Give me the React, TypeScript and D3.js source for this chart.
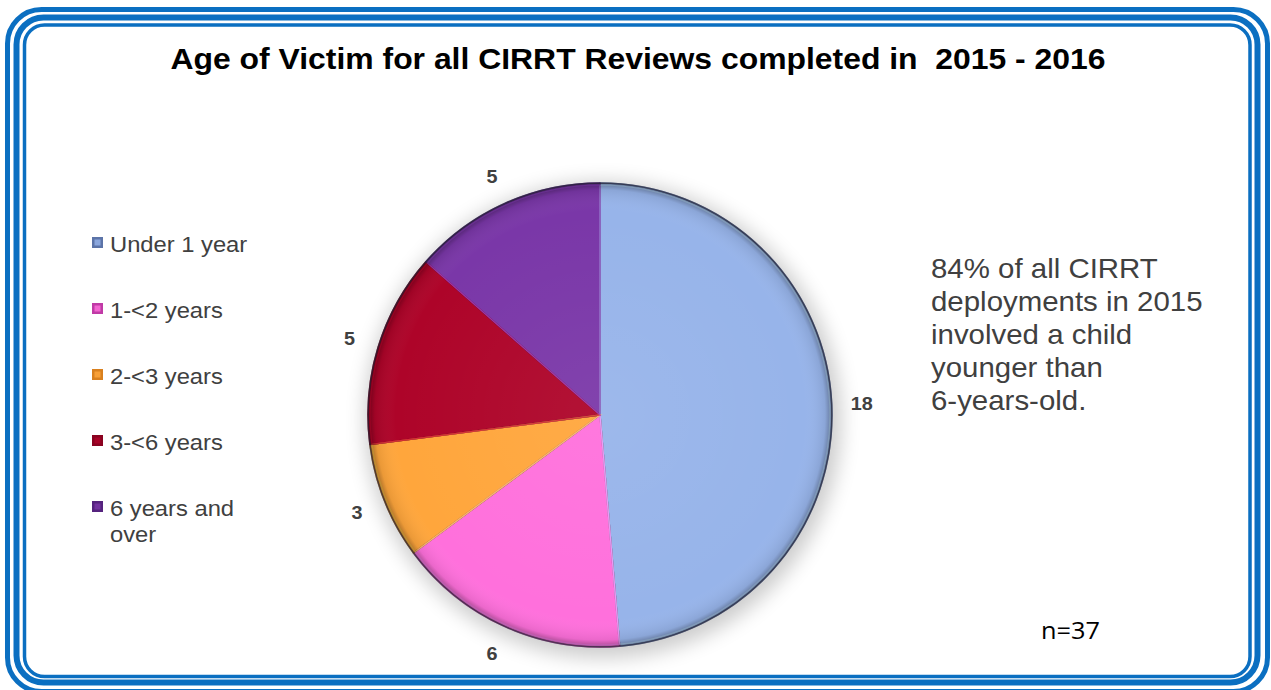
import React from "react";
import * as d3 from "d3";

const categories = ["Under 1 year", "1-<2 years", "2-<3 years", "3-<6 years", "6 years and over"];
const legendLines = [["Under 1 year"], ["1-<2 years"], ["2-<3 years"], ["3-<6 years"], ["6 years and", "over"]];
const values = [18, 6, 3, 5, 5];
const colors = ["#97B4EA", "#FF70DC", "#FFA63C", "#AE0429", "#7A37A8"];
const markerColors = ["#5C74A8", "#C03AA6", "#D9801E", "#8A0320", "#55237E"];
const noteLines = ["84% of all CIRRT", "deployments in 2015", "involved a child", "younger than", "6-years-old."];
const title = "Age of Victim for all CIRRT Reviews completed in\u00a0 2015 - 2016";
const nLabel = "n=37";

const W = 1271;
const H = 690;
const FONT = "'Liberation Sans', Arial, sans-serif";

export default function App() {
  const cx = 600;
  const cy = 415;
  const r = 232;
  const pie = d3.pie<number>().sort(null).value((d) => d)(values);
  const arc = d3.arc<d3.PieArcDatum<number>>().innerRadius(0).outerRadius(r);
  const innerArc = d3.arc<d3.PieArcDatum<number>>().innerRadius(0).outerRadius(r - 2);
  const labelArc = d3.arc<d3.PieArcDatum<number>>().innerRadius(262).outerRadius(262);
  const legendY = d3.scalePoint<number>().domain(d3.range(categories.length)).range([245, 509]);
  const noteY = d3.scaleLinear().domain([0, 4]).range([278, 410]);

  return (
    <svg width={W} height={H} style={{ position: "absolute", left: 0, top: 0, display: "block" }}>
      <defs>
        <filter id="shadow" x="-30%" y="-30%" width="160%" height="160%">
          <feGaussianBlur stdDeviation="10" />
        </filter>
        <radialGradient id="shade" cx="0.5" cy="0.5" r="0.5">
          <stop offset="0%" stopColor="#fff" stopOpacity="0.06" />
          <stop offset="88%" stopColor="#fff" stopOpacity="0" />
          <stop offset="97%" stopColor="#000" stopOpacity="0.08" />
          <stop offset="100%" stopColor="#000" stopOpacity="0.35" />
        </radialGradient>
      </defs>
      <rect x={0} y={0} width={W} height={H} fill="#fff" />
      {/* triple blue frame */}
      <rect x={7.5} y={9.5} width={1260} height={682} rx={34} fill="none" stroke="#0B6FC1" strokeWidth={5} />
      <rect x={16.5} y={17.5} width={1241} height={665} rx={27} fill="none" stroke="#0B6FC1" strokeWidth={6} />
      <rect x={24.5} y={25} width={1225.5} height={651.5} rx={20} fill="none" stroke="#0B6FC1" strokeWidth={3.5} />

      <g transform={`translate(638,69) scale(1.1,1)`}>
        <text x={0} y={0} textAnchor="middle" fontFamily={FONT} fontWeight="bold" fontSize={29} fill="#000">
          {title}
        </text>
      </g>

      {/* pie */}
      <circle cx={cx + 3} cy={cy + 5} r={r + 6} fill="#000" opacity={0.2} filter="url(#shadow)" />
      <g transform={`translate(${cx},${cy})`}>
        {pie.map((d, i) => (
          <path key={i} d={arc(d) || ""} fill={colors[i]} stroke={d3.color(colors[i])!.darker(1.2).toString()} strokeWidth={1.5} strokeLinejoin="round" />
        ))}
        {pie.map((d, i) => (
          <path key={"h" + i} d={innerArc(d) || ""} fill="none" stroke={d3.color(colors[i])!.brighter(0.6).toString()} strokeWidth={1.2} opacity={0.7} />
        ))}
        <circle r={r} fill="url(#shade)" />
        <circle r={r} fill="none" stroke="#2a2a40" strokeWidth={1.5} opacity={0.6} />
        {pie.map((d, i) => {
          const [lx, ly] = labelArc.centroid(d);
          return (
            <g key={"l" + i} transform={`translate(${lx},${ly}) scale(1.1,1)`}>
              <text x={0} y={0} dy="0.35em" textAnchor="middle" fontFamily={FONT} fontWeight="bold" fontSize={18} fill="#404040">
                {values[i]}
              </text>
            </g>
          );
        })}
      </g>

      {/* legend */}
      {categories.map((c, i) => {
        const y = legendY(i)!;
        return (
          <g key={c}>
            <rect x={92} y={y - 8} width={11} height={11} fill={markerColors[i]} />
            <rect x={94.5} y={y - 5.5} width={6} height={6} fill={colors[i]} opacity={0.8} />
            <g transform={`translate(110,${y + 7}) scale(1.08,1)`}>
              {legendLines[i].map((t, j) => (
                <text key={j} x={0} y={j * 26} fontFamily={FONT} fontSize={22} fill="#404040">
                  {t}
                </text>
              ))}
            </g>
          </g>
        );
      })}

      {/* note */}
      {noteLines.map((t, i) => (
        <g key={t} transform={`translate(931,${noteY(i)}) scale(1.09,1)`}>
          <text x={0} y={0} fontFamily={FONT} fontSize={27} fill="#404040">
            {t}
          </text>
        </g>
      ))}
      <g transform={`translate(1041,639) scale(1.1,1)`}>
        <text x={0} y={0} fontFamily="'Open Sans', sans-serif" fontSize={23} fill="#000">
          {nLabel}
        </text>
      </g>
    </svg>
  );
}
